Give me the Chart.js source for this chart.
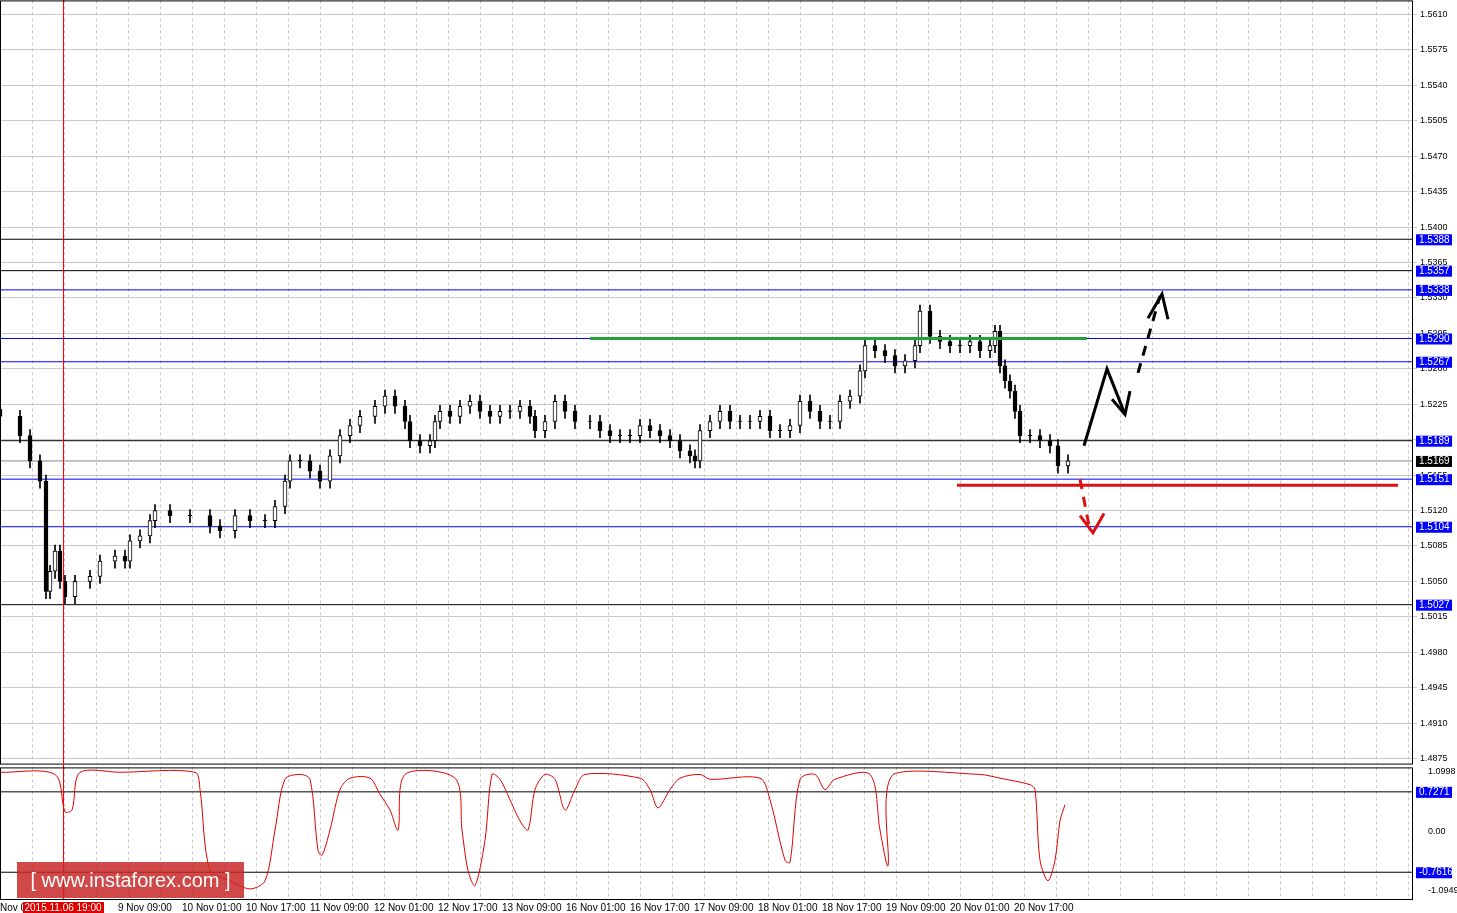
<!DOCTYPE html>
<html><head><meta charset="utf-8">
<script src="https://cdn.jsdelivr.net/npm/chart.js@4/dist/chart.umd.min.js"></script>
<style>
body{margin:0;background:#fff;font-family:Arial,"Liberation Sans",sans-serif;overflow:hidden}
#wrap{position:relative;width:1457px;height:913px;overflow:hidden}
#main{position:absolute;left:0;top:-8px}
#ind{position:absolute;left:0;top:755px}
#wm{position:absolute;left:17px;top:862px;width:227px;height:36px;background:rgba(200,40,40,0.85);color:#fff;font:20px Arial;line-height:36px;text-align:center}
</style></head><body>
<div id="wrap">
<canvas id="main" width="1457" height="780"></canvas>
<canvas id="ind" width="1457" height="159"></canvas>
<div id="wm">[ www.instaforex.com ]</div>
</div>
<script>
// candle positions (hours from left edge) and closes
const hours = [0,5,7.5,10,11.5,12.5,13.75,15,16.25,18.75,22.5,25,28.75,31.25,32.5,35,37.5,38.75,42.5,47.5,52.5,55,58.75,62.5,66.25,68.75,71.25,72.5,75,77.5,80,82.5,85,87.5,90,93.75,96.25,98.75,101.25,102.5,105,107.5,108.75,110,112.5,115,117.5,120,122.5,125,127.5,130,132.5,133.75,136.25,138.75,141.25,143.75,147.5,150,152.5,155,157.5,160,162.5,165,167.5,170,172.5,173.75,175,177.5,180,182.5,185,187.5,190,192.5,195,197.5,200,202.5,205,207.5,210,212.5,215,216.25,218.75,221.25,223.75,226.25,228.75,230,232.5,235,237.5,240,242.5,245,247.5,248.75,250,251.25,252.5,253.75,255,257.5,260,262.5,264.5,267];
const closes = [1.5213,1.5194,1.5169,1.5149,1.5040,1.5060,1.5080,1.5050,1.5035,1.5050,1.5055,1.5070,1.5075,1.5070,1.5090,1.5095,1.5110,1.5120,1.5115,1.5115,1.5105,1.5100,1.5115,1.5110,1.5110,1.5124,1.5149,1.5169,1.5169,1.5159,1.5149,1.5174,1.5194,1.5204,1.5213,1.5223,1.5233,1.5223,1.5208,1.5189,1.5184,1.5189,1.5208,1.5218,1.5213,1.5223,1.5228,1.5218,1.5213,1.5218,1.5218,1.5223,1.5213,1.5199,1.5208,1.5228,1.5218,1.5208,1.5208,1.5199,1.5194,1.5194,1.5194,1.5204,1.5199,1.5194,1.5189,1.5179,1.5174,1.5169,1.5199,1.5208,1.5218,1.5208,1.5208,1.5208,1.5213,1.5199,1.5199,1.5204,1.5228,1.5218,1.5208,1.5208,1.5228,1.5233,1.5258,1.5283,1.5278,1.5273,1.5263,1.5268,1.5283,1.5317,1.5292,1.5287,1.5283,1.5283,1.5287,1.5278,1.5283,1.5297,1.5263,1.5248,1.5238,1.5218,1.5194,1.5194,1.5189,1.5184,1.5164,1.5169];
const priceTicks = [1.5610,1.5575,1.5540,1.5505,1.5470,1.5435,1.5400,1.5365,1.5330,1.5295,1.5260,1.5225,1.5190,1.5155,1.5120,1.5085,1.5050,1.5015,1.4980,1.4945,1.4910,1.4875];
const levels = [1.5388,1.5357,1.5338,1.5290,1.5267,1.5189,1.5169,1.5151,1.5104,1.5027];
const levelColors = ['#000','#000','#00f','#00f','#00f','#000','#888','#00f','#00f','#000'];
const levelBoxes = ['#00f','#00f','#00f','#00f','#00f','#00f','#000','#00f','#00f','#00f'];
const greenLine = {x:[147.5,271.75], y:1.5290};
const redLine = {x:[239.25,349.5], y:1.5145};
const upArrowX = [271,276.75,281.25], upArrowY = [1.5184,1.5260,1.5215];
const upHeadX = [278,281.25,282.5], upHeadY = [1.5230,1.5215,1.5238];
const upDashX = [284.5,290], upDashY = [1.5256,1.5332];
const upHead2X = [287,290.5,292], upHead2Y = [1.5310,1.5334,1.5309];
const dnDashX = [270,272.5], dnDashY = [1.5151,1.5100];
const dnHeadX = [270,273.25,276], dnHeadY = [1.5115,1.5098,1.5117];
const indHours = [0,13.75,16.25,18,20,30,48.75,50,52.5,57.5,62.5,66.25,68.75,71.25,75,77.5,79.5,80.5,82.5,85,87.5,92.5,95,97.5,99.5,101.25,113.75,115.5,117,118.75,121.25,123,125,127.5,130,132,133.75,136.25,138.75,141.25,143.75,146.25,160,162.5,164.5,167.5,170,175,177.5,190,192.5,196.25,197.5,200,203.75,206.25,208.75,217.5,220,222,223.25,245,250,257.5,258.75,260,262,263.75,265,266.25];
const indValues = [1.09,1.05,0.36,0.39,1.09,1.09,1.09,0.77,-0.73,-0.92,-1.07,-0.92,0.02,0.96,1.05,0.96,-0.36,-0.45,0.02,0.77,0.98,0.98,0.68,0.39,0.02,1.05,0.98,0.02,-0.73,-1.01,-0.17,1.05,0.96,0.58,0.19,0.02,0.77,1.05,0.96,0.39,0.77,1.05,0.98,0.77,0.43,0.77,0.98,1.05,0.96,0.98,0.58,-0.54,-0.58,0.96,1.05,0.77,0.96,1.05,0.02,-0.64,1.05,1.05,0.98,0.86,0.77,-0.54,-0.92,-0.54,0.19,0.49];
const indLevels = [0.7271,-0.7616];
const indTicks = [1.0998,0,-1.0949];
const timeLabels = ['9 Nov 09:00','10 Nov 01:00','10 Nov 17:00','11 Nov 09:00','12 Nov 01:00','12 Nov 17:00','13 Nov 09:00','16 Nov 01:00','16 Nov 17:00','17 Nov 09:00','18 Nov 01:00','18 Nov 17:00','19 Nov 09:00','20 Nov 01:00','20 Nov 17:00'];
const timeLabelHours = [29,45,61,77,93,109,125,141,157,173,189,205,221,237,253];
const markerHour = 15.75, markerLabel = '2015.11.06 19:00';

const XMAX = 353.25;
const opens = closes.map((c,i) => i ? closes[i-1] : 1.5220);
const fmt = v => v.toFixed(4);

function grid(chart){
  const {ctx, chartArea:a, scales:{x}} = chart;
  ctx.save();
  ctx.strokeStyle='#c8c8c8'; ctx.setLineDash([3,3]); ctx.lineWidth=1;
  for(let h=8; h<XMAX; h+=8){const px=Math.round(x.getPixelForValue(h))+0.5; ctx.beginPath(); ctx.moveTo(px,a.top); ctx.lineTo(px,a.bottom); ctx.stroke();}
  ctx.restore();
}
function marker(chart){
  const {ctx, chartArea:a, scales:{x}} = chart;
  ctx.save();
  ctx.setLineDash([]); ctx.lineWidth=1; ctx.strokeStyle='rgb(255,0,0)';
  const mx=Math.round(x.getPixelForValue(markerHour))+0.5;
  ctx.beginPath(); ctx.moveTo(mx,0); ctx.lineTo(mx,a.bottom); ctx.stroke();
  ctx.strokeStyle='#000';
  ctx.strokeRect(a.left+0.5,a.top+0.5,a.right-a.left-1,a.bottom-a.top);
  ctx.restore();
}
function boxes(chart, vals, bg){
  const {ctx, chartArea:a, scales:{y}} = chart;
  ctx.save(); ctx.font='10px Arial'; ctx.textBaseline='middle';
  vals.forEach((v,i)=>{const py=y.getPixelForValue(v);
    ctx.fillStyle=bg[i]; ctx.fillRect(a.right+3,py-5,36,11);
    ctx.fillStyle='#fff'; ctx.fillText(fmt(v), a.right+6, py+0.5);});
  ctx.restore();
}

const lineDs = (xs,ys,color,w,dash,ord)=>({type:'line',data:xs.map((h,i)=>({x:h,y:ys[i]})),borderColor:color,borderWidth:w,borderDash:dash||[],pointRadius:0,fill:false,order:ord===undefined?3:ord});

new Chart(document.getElementById('main'), {
  type:'bar',
  data:{datasets:[
    {data:hours.map((h,i)=>({x:h,y:[Math.min(opens[i],closes[i])-0.0007,Math.max(opens[i],closes[i])+0.0006]})),backgroundColor:'#000',barThickness:1,grouped:false,order:2},
    {data:hours.map((h,i)=>({x:h,y:[opens[i],closes[i]===opens[i]?closes[i]+0.00005:closes[i]]})),backgroundColor:hours.map((h,i)=>closes[i]>opens[i]?'#fff':'#000'),borderColor:'#000',borderWidth:1,borderSkipped:false,barThickness:4,grouped:false,order:1},
    ...levels.map((v,i)=>lineDs([0,XMAX],[v,v],levelColors[i],1)),
    lineDs(greenLine.x,[greenLine.y,greenLine.y],'#22a33a',3,[],-1),
    lineDs(redLine.x,[redLine.y,redLine.y],'#e01010',3,[],-1),
    lineDs(upArrowX,upArrowY,'#000',3,[],-1), lineDs(upHeadX,upHeadY,'#000',3,[],-1),
    lineDs(upDashX,upDashY,'#000',3,[10,8],-1), lineDs(upHead2X,upHead2Y,'#000',3,[],-1),
    lineDs(dnDashX,dnDashY,'#e01010',3,[10,8],-1), lineDs(dnHeadX,dnHeadY,'#e01010',3,[],-1)
  ]},
  options:{animation:false,responsive:false,layout:{padding:0},
    plugins:{legend:{display:false},tooltip:{enabled:false}},
    scales:{
      x:{type:'linear',min:0,max:XMAX,display:false,offset:false},
      y:{position:'right',min:1.4870,max:1.5624,afterFit:s=>{s.width=44},
        afterBuildTicks:s=>{s.ticks=priceTicks.map(v=>({value:v}))},
        grid:{color:'#c8c8c8',tickLength:4,drawTicks:true},border:{display:false},
        ticks:{color:'#000',font:{size:9,family:'Arial'},padding:3,callback:v=>fmt(v)}}
    }},
  plugins:[{id:'deco',beforeDatasetsDraw:grid,afterDraw:c=>{marker(c);boxes(c,levels,levelBoxes);}}]
});

new Chart(document.getElementById('ind'), {
  type:'line',
  data:{datasets:[
    {data:indHours.map((h,i)=>({x:h,y:indValues[i]})),borderColor:'#e00000',borderWidth:1,pointRadius:0,tension:0.3},
    ...indLevels.map(v=>({data:[{x:0,y:v},{x:XMAX,y:v}],borderColor:'#000',borderWidth:1,pointRadius:0}))
  ]},
  options:{animation:false,responsive:false,layout:{padding:{top:2,bottom:15}},
    plugins:{legend:{display:false},tooltip:{enabled:false}},
    scales:{
      x:{type:'linear',min:0,max:XMAX,display:false,offset:false},
      y:{position:'right',min:-1.257,max:1.18,afterFit:s=>{s.width=44},
        afterBuildTicks:s=>{s.ticks=indTicks.map(v=>({value:v}))},
        grid:{display:false},border:{display:false},
        ticks:{color:'#000',font:{size:9,family:'Arial'},padding:7,callback:v=>v===0?'0.00':fmt(v)}}
    }},
  plugins:[{id:'deco2',beforeDatasetsDraw:grid,
    afterDraw:c=>{
      marker(c);
      boxes(c,indLevels,['#00f','#00f']);
      const {ctx,chartArea:a,scales:{x}}=c;
      ctx.save(); ctx.font='10px Arial'; ctx.fillStyle='#000'; ctx.textBaseline='middle';
      ctx.fillText('Nov 0',0,a.bottom+9);
      timeLabels.forEach((t,i)=>ctx.fillText(t,x.getPixelForValue(timeLabelHours[i])+2,a.bottom+9));
      const mx=x.getPixelForValue(markerHour);
      ctx.fillStyle='#e00000'; ctx.fillRect(mx-40,a.bottom+3,81,12);
      ctx.fillStyle='#fff'; ctx.textAlign='center'; ctx.fillText(markerLabel,mx,a.bottom+9);
      ctx.restore();
    }}]
});
</script>
</body></html>
